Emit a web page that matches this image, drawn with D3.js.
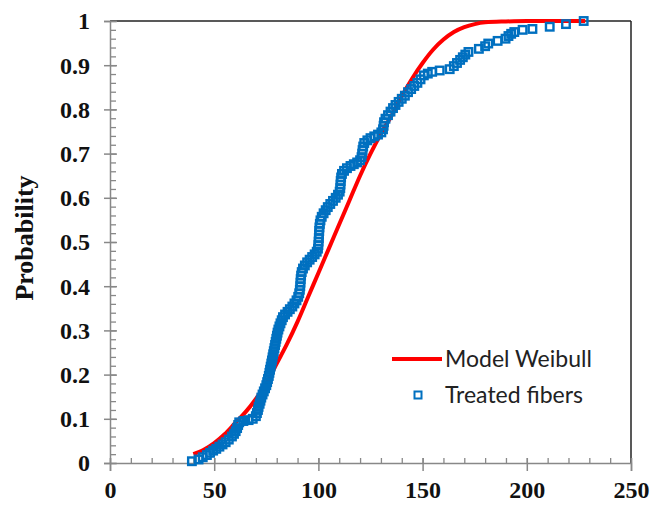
<!DOCTYPE html>
<html><head><meta charset="utf-8">
<script src="https://cdn.jsdelivr.net/npm/d3@7"></script>
<style>html,body{margin:0;padding:0;background:#fff;}svg{display:block;}</style>
</head><body>
<svg id="chart" width="652" height="508"></svg>
<script>
// Data
const fiberStrength = [39.3,42.5,44.5,46.5,48,49.5,51,52.5,54,55.5,57,58.5,59.5,60.3,61,61.5,62,64,66.5,68.5,70,
70.5,71,71.3,71.8,72.2,72.6,73.2,73.8,74.4,75,75.4,75.8,76.2,76.5,76.8,77.1,77.4,77.7,78,78.3,78.6,78.9,79.2,79.5,79.8,80.1,80.4,80.8,81.3,81.8,82.4,83,84,85.2,86.3,87.5,
88.5,89.5,90.3,90.8,91.1,91.3,91.4,91.5,91.7,92,92.6,93.5,94.6,95.8,97,98.2,99.2,
99.8,100,100.1,100.2,100.3,100.4,100.5,100.7,101,101.6,102.5,103.5,104.5,105.7,107,108.3,109.4,110.2,
110.5,110.6,110.7,110.9,111.3,112.3,113.7,115.4,117,118.6,120,120.7,121,121.2,121.5,122,123.5,125,126.8,128.6,130.2,131,131.3,131.5,132.2,
133.4,134.6,135.8,137,138.5,140,141.5,143,144.5,146,147.5,149,150.6,
152.5,154.6,158.2,163,165,166.5,168,169.3,170.5,172,177,180,181.5,186,189.8,191.2,192.5,194,198,202.7,211,218.8,227.3];
const fiberProbability = [0.004,0.008,0.013,0.018,0.023,0.028,0.032,0.037,0.042,0.047,0.053,0.06,0.066,0.072,0.079,0.086,0.092,0.095,0.097,0.1,0.106,
0.113,0.12,0.127,0.134,0.141,0.148,0.155,0.162,0.169,0.176,0.183,0.19,0.197,0.204,0.211,0.218,0.225,0.232,0.239,0.246,0.253,0.26,0.267,0.274,0.281,0.288,0.295,0.302,0.309,0.316,0.323,0.33,0.336,0.342,0.348,0.354,
0.361,0.368,0.376,0.384,0.392,0.4,0.408,0.416,0.424,0.432,0.44,0.447,0.454,0.46,0.466,0.472,0.478,
0.485,0.493,0.501,0.509,0.517,0.525,0.533,0.541,0.549,0.557,0.565,0.572,0.579,0.586,0.593,0.6,0.607,0.614,
0.622,0.63,0.638,0.646,0.654,0.661,0.667,0.672,0.676,0.68,0.685,0.692,0.7,0.708,0.716,0.724,0.73,0.735,0.739,0.743,0.748,0.755,0.763,0.771,0.779,
0.787,0.795,0.803,0.81,0.817,0.824,0.831,0.839,0.846,0.853,0.86,0.868,0.877,
0.881,0.885,0.888,0.891,0.898,0.905,0.912,0.918,0.924,0.93,0.937,0.943,0.949,0.955,0.96,0.966,0.971,0.975,0.98,0.982,0.987,0.993,1.0];
const modelStrength = [40,45,50,55,60,65,70,75,80,85,90,95,100,105,110,115,120,125,130,135,140,145,150,155,160,165,170,175,180,190,200,228];
const modelProbability = [0.02,0.03,0.045,0.065,0.09,0.115,0.145,0.18,0.225,0.27,0.32,0.375,0.43,0.485,0.54,0.595,0.65,0.70,0.745,0.785,0.83,0.87,0.905,0.935,0.958,0.975,0.986,0.993,0.997,0.999,1.0,1.0];
const xTicks = [0,50,100,150,200,250];
const yTicks = [0,0.1,0.2,0.3,0.4,0.5,0.6,0.7,0.8,0.9,1];
const seriesNames = ["Model Weibull","Treated fibers"];
const yTitle = "Probability";

const svg = d3.select("#chart");
const L = 110, R = 631, T = 21, B = 463;
const x = d3.scaleLinear().domain([0,250]).range([L,R]);
const y = d3.scaleLinear().domain([0,1]).range([B,T]);
const axisColor = "#888888";
const serif = "'Liberation Serif','Times New Roman',serif";
const sans = "Lato,'Open Sans',sans-serif";

// frame top/right
svg.append("line").attr("x1",L).attr("x2",R).attr("y1",T).attr("y2",T).attr("stroke","#222").attr("stroke-width",1.5);
svg.append("line").attr("x1",R).attr("x2",R).attr("y1",T).attr("y2",B).attr("stroke","#222").attr("stroke-width",1.5);

// Y axis
const gy = svg.append("g").attr("transform",`translate(${L},0)`);
gy.append("g").call(d3.axisRight(y).tickValues(d3.range(0,1.0001,0.02)).tickSize(6).tickFormat(""))
  .call(g=>{g.select(".domain").remove(); g.selectAll("line").attr("stroke",axisColor).attr("stroke-width",1.3);});
gy.append("g").call(d3.axisLeft(y).tickValues(yTicks).tickSize(6).tickFormat(d3.format("")).tickPadding(14))
  .call(g=>{g.select(".domain").attr("stroke",axisColor).attr("stroke-width",1.5);
    g.selectAll("line").attr("stroke",axisColor).attr("stroke-width",1.5).attr("x2",-6).attr("x1",7);
    g.selectAll("text").attr("font-family",serif).attr("font-weight","bold").attr("font-size",24).attr("fill","#111").attr("dy","0.33em");});

// X axis
const gx = svg.append("g").attr("transform",`translate(0,${B})`);
gx.append("g").call(d3.axisTop(x).tickValues(d3.range(0,250.001,10)).tickSize(5).tickFormat(""))
  .call(g=>{g.select(".domain").remove(); g.selectAll("line").attr("stroke",axisColor).attr("stroke-width",1.3);});
gx.append("g").call(d3.axisBottom(x).tickValues(xTicks).tickSize(8).tickFormat(d3.format("")).tickPadding(10))
  .call(g=>{g.select(".domain").attr("stroke",axisColor).attr("stroke-width",1.5);
    g.selectAll("line").attr("stroke",axisColor).attr("stroke-width",1.5).attr("y1",-5);
    g.selectAll("text").attr("font-family",serif).attr("font-weight","bold").attr("font-size",24).attr("fill","#111");});

// Y title
svg.append("text").attr("transform","translate(33,238) rotate(-90)").attr("text-anchor","middle")
  .attr("font-family",serif).attr("font-weight","bold").attr("font-size",26).attr("fill","#111").text(yTitle);

// model curve
const modelData = modelStrength.map((s,i)=>({x:s,y:modelProbability[i]}));
svg.append("path").datum(modelData)
  .attr("d",d3.line().x(d=>x(d.x)).y(d=>y(d.y)).curve(d3.curveMonotoneX))
  .attr("fill","none").attr("stroke","#ff0000").attr("stroke-width",4);

// data squares
const pts = fiberStrength.map((s,i)=>({x:s,y:fiberProbability[i]}));
const sq = 7.5;
svg.append("g").selectAll("rect").data(pts).join("rect")
  .attr("x",d=>x(d.x)-sq/2).attr("y",d=>y(d.y)-sq/2).attr("width",sq).attr("height",sq)
  .attr("fill","none").attr("stroke","#0070C0").attr("stroke-width",2.4);

// legend
const lg = svg.append("g");
lg.append("line").attr("x1",392).attr("x2",442).attr("y1",359).attr("y2",359).attr("stroke","#ff0000").attr("stroke-width",4);
lg.append("text").attr("x",445).attr("y",359).attr("dy","0.35em").attr("font-family",sans).attr("font-size",23).attr("fill","#222").text(seriesNames[0]);
lg.append("rect").attr("x",418-3.5).attr("y",395-3.5).attr("width",7).attr("height",7).attr("fill","none").attr("stroke","#0070C0").attr("stroke-width",2);
lg.append("text").attr("x",445).attr("y",395).attr("dy","0.35em").attr("font-family",sans).attr("font-size",23).attr("fill","#222").text(seriesNames[1]);
</script>
</body></html>
